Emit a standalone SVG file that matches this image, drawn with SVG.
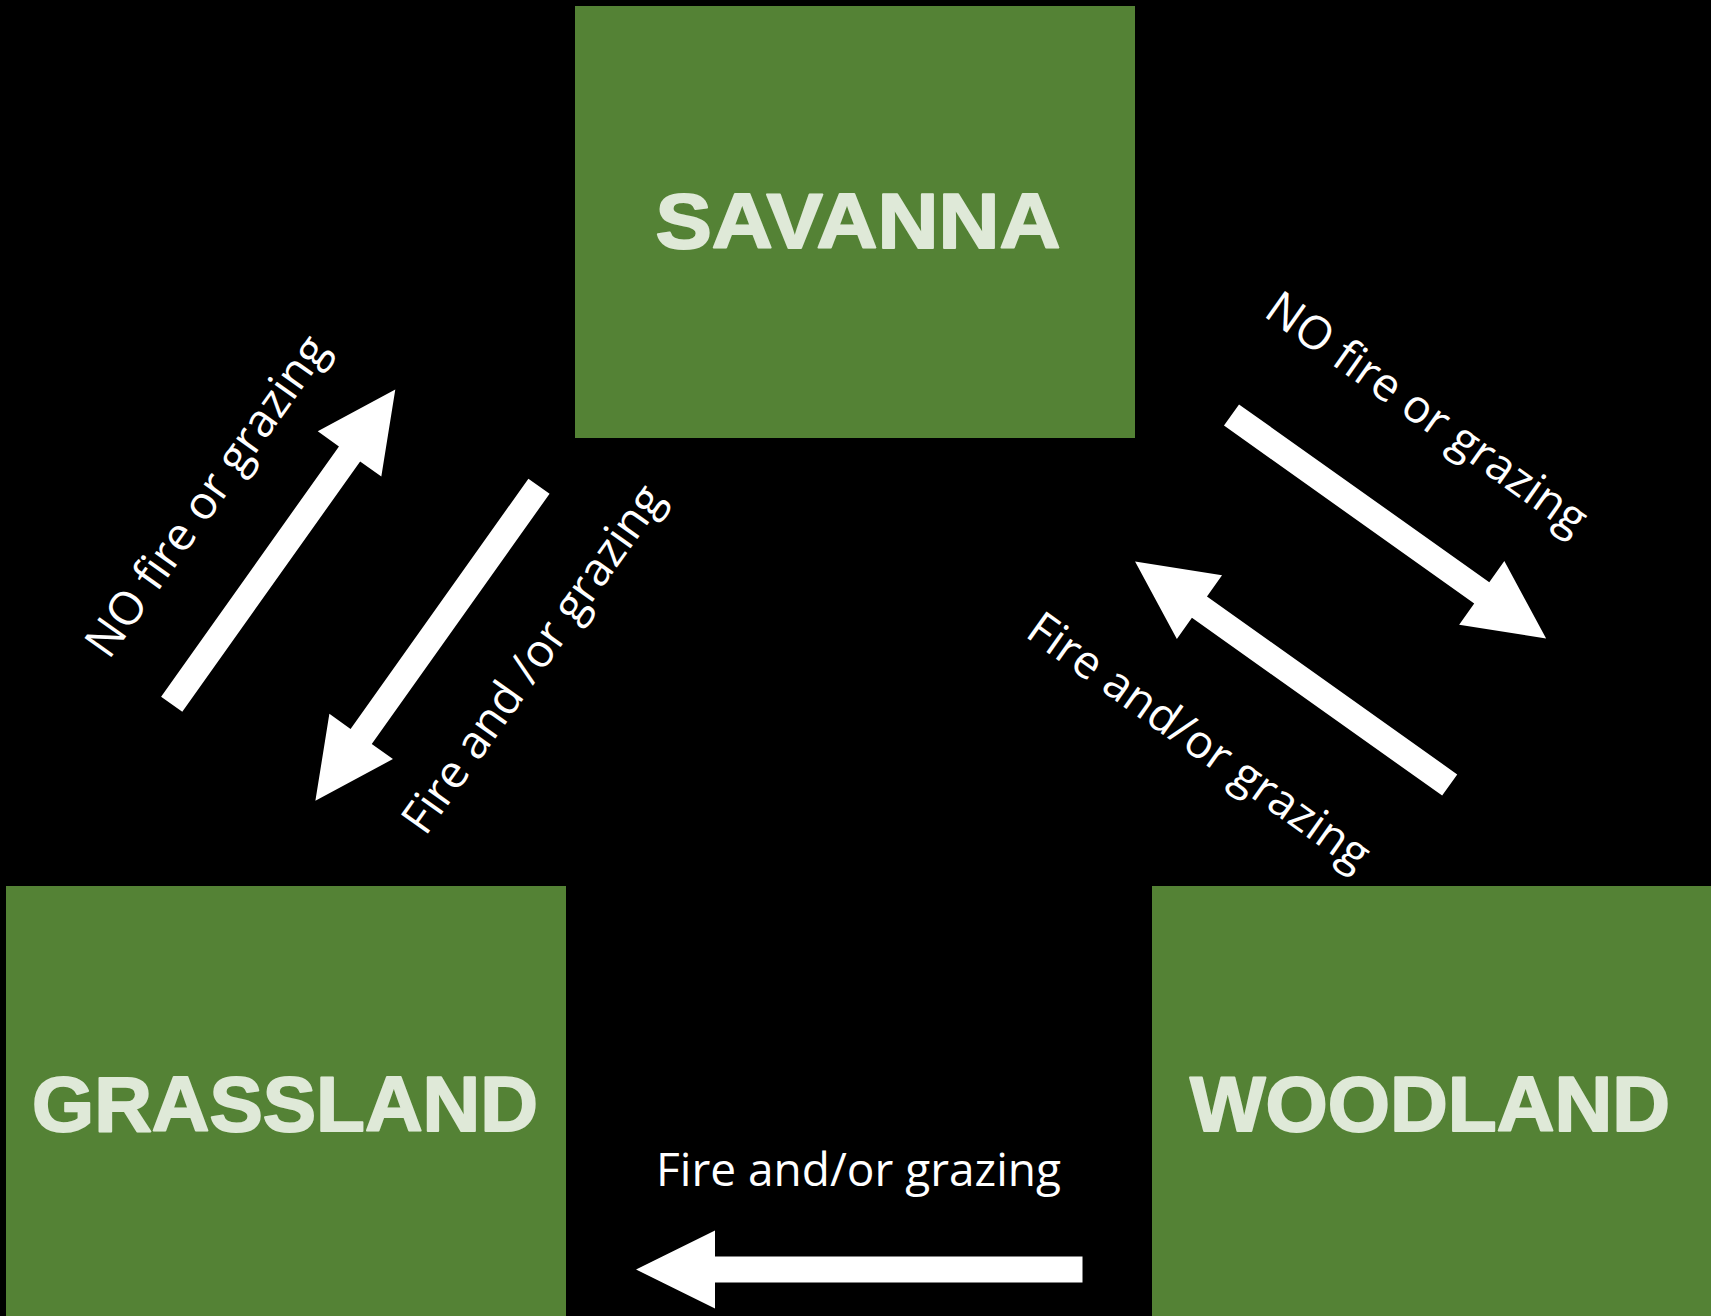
<svg xmlns="http://www.w3.org/2000/svg" width="1711" height="1316" viewBox="0 0 1711 1316">
  <style>
    .box { fill: #548235; }
    .title { font-family: "Liberation Sans", Arial, sans-serif; font-weight: bold; font-size: 78px; fill: #DFE9D8; stroke: #DFE9D8; stroke-width: 2px; stroke-linejoin: round; text-anchor: middle; }
    .arrow { fill: #FFFFFF; }
    .lbl { font-family: "Open Sans", "Noto Sans", sans-serif; font-size: 46px; fill: #FFFFFF; text-anchor: middle; }
  </style>
  <defs>
    <polygon id="arr" points="0,-13 307,-13 307,-39 386,0 307,39 307,13 0,13"/>
  </defs>
  <rect x="0" y="0" width="1711" height="1316" fill="#000000"/>

  <g id="savanna">
    <rect class="box" x="575" y="6" width="560" height="432"/>
    <text class="title" x="858" y="248" textLength="405" lengthAdjust="spacingAndGlyphs">SAVANNA</text>
  </g>
  <g id="grassland">
    <rect class="box" x="6" y="886" width="560" height="430"/>
    <text class="title" x="285" y="1131" textLength="506" lengthAdjust="spacingAndGlyphs">GRASSLAND</text>
  </g>
  <g id="woodland">
    <rect class="box" x="1152" y="886" width="559" height="430"/>
    <text class="title" x="1430" y="1131" textLength="480" lengthAdjust="spacingAndGlyphs">WOODLAND</text>
  </g>

  <g id="connectors">
    <g id="grass-to-savanna">
      <use href="#arr" class="arrow" transform="translate(171.7,704.2) rotate(-54.6)"/>
      <text class="lbl" transform="translate(219.5,505) rotate(-54.6)" textLength="382" lengthAdjust="spacing">NO fire or grazing</text>
    </g>
    <g id="savanna-to-grass">
      <use href="#arr" class="arrow" transform="translate(539,486.2) rotate(125.4)"/>
      <text class="lbl" transform="translate(545.5,668) rotate(-54.6)" textLength="415" lengthAdjust="spacing">Fire and /or grazing</text>
    </g>
    <g id="savanna-to-wood">
      <use href="#arr" class="arrow" transform="translate(1231.5,415) rotate(35.4)"/>
      <text class="lbl" transform="translate(1418,426) rotate(35.4)" textLength="382" lengthAdjust="spacing">NO fire or grazing</text>
    </g>
    <g id="wood-to-savanna">
      <use href="#arr" class="arrow" transform="translate(1449.7,785) rotate(215.4)"/>
      <text class="lbl" transform="translate(1190,754) rotate(35.4)" textLength="408" lengthAdjust="spacing">Fire and/or grazing</text>
    </g>
    <g id="wood-to-grass">
      <polygon class="arrow" points="1082.5,1256.5 715,1256.5 715,1230.5 636,1269.5 715,1308.5 715,1282.5 1082.5,1282.5"/>
      <text class="lbl" x="858.5" y="1186" textLength="405" lengthAdjust="spacing">Fire and/or grazing</text>
    </g>
  </g>
</svg>
